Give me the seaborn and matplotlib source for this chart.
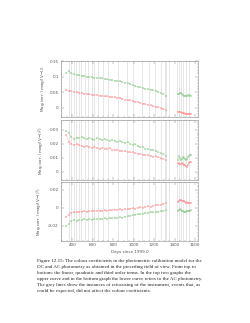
import matplotlib
matplotlib.use("Agg")
import matplotlib.pyplot as plt
import seaborn as sns
from matplotlib.ticker import AutoMinorLocator
import numpy as np

# --- data ---
days_a = [340, 365, 390, 415, 440, 465, 490, 515, 540, 565, 590, 615, 640, 665,
          690, 715, 740, 765, 790, 815, 840, 865, 890, 915, 940, 965, 990, 1015,
          1040, 1065, 1090, 1115, 1140, 1165, 1190, 1215, 1240, 1265, 1290, 1315]
days_b = [1430, 1440, 1450, 1460, 1470, 1480, 1490, 1500, 1510, 1520, 1530, 1540, 1550, 1560]

lin_ac_a = [0.113, 0.118, 0.110, 0.107, 0.106, 0.104, 0.103, 0.102, 0.100, 0.099,
            0.098, 0.097, 0.096, 0.095, 0.094, 0.092, 0.091, 0.090, 0.088, 0.087,
            0.086, 0.085, 0.082, 0.080, 0.078, 0.076, 0.072, 0.070, 0.068, 0.066,
            0.063, 0.061, 0.059, 0.058, 0.056, 0.054, 0.050, 0.047, 0.044, 0.038]
lin_ac_b = [0.043, 0.045, 0.046, 0.047, 0.044, 0.040, 0.037, 0.036, 0.038, 0.039,
            0.040, 0.039, 0.040, 0.039]
lin_dc_a = [0.056, 0.054, 0.052, 0.050, 0.049, 0.048, 0.046, 0.045, 0.044, 0.043,
            0.042, 0.041, 0.040, 0.039, 0.038, 0.037, 0.036, 0.035, 0.034, 0.033,
            0.032, 0.031, 0.029, 0.026, 0.024, 0.023, 0.021, 0.019, 0.018, 0.016,
            0.013, 0.011, 0.009, 0.007, 0.005, 0.003, 0.001, -0.002, -0.005, -0.009]
lin_dc_b = [-0.013, -0.014, -0.014, -0.015, -0.016, -0.017, -0.018, -0.019, -0.020,
            -0.021, -0.021, -0.022, -0.022, -0.022]

quad_ac_a = [0.0295, 0.0275, 0.0250, 0.0235, 0.0245, 0.0240, 0.0250, 0.0238, 0.0232, 0.0245,
             0.0236, 0.0228, 0.0240, 0.0232, 0.0225, 0.0236, 0.0228, 0.0220, 0.0226, 0.0222,
             0.0215, 0.0220, 0.0210, 0.0205, 0.0212, 0.0198, 0.0190, 0.0196, 0.0182, 0.0175,
             0.0180, 0.0165, 0.0160, 0.0155, 0.0158, 0.0145, 0.0140, 0.0132, 0.0125, 0.0112]
quad_ac_b = [0.0085, 0.0110, 0.0095, 0.0080, 0.0090, 0.0105, 0.0098, 0.0088, 0.0080,
             0.0092, 0.0105, 0.0112, 0.0118, 0.0120]
quad_dc_a = [0.0262, 0.0215, 0.0200, 0.0192, 0.0198, 0.0188, 0.0185, 0.0178, 0.0183, 0.0176,
             0.0172, 0.0178, 0.0170, 0.0166, 0.0172, 0.0165, 0.0162, 0.0168, 0.0158, 0.0154,
             0.0158, 0.0150, 0.0146, 0.0150, 0.0142, 0.0138, 0.0140, 0.0132, 0.0126, 0.0128,
             0.0120, 0.0116, 0.0120, 0.0112, 0.0108, 0.0110, 0.0102, 0.0096, 0.0092, 0.0084]
quad_dc_b = [0.0062, 0.0058, 0.0052, 0.0055, 0.0060, 0.0058, 0.0050, 0.0045, 0.0038,
             0.0030, 0.0048, 0.0062, 0.0070, 0.0072]

cub_dc_a = [-0.0100, -0.0075, -0.0055, -0.0048, -0.0052, -0.0042, -0.0045, -0.0038, -0.0044, -0.0036,
            -0.0040, -0.0032, -0.0036, -0.0030, -0.0034, -0.0028, -0.0030, -0.0024, -0.0027, -0.0020,
            -0.0024, -0.0018, -0.0020, -0.0012, -0.0016, -0.0008, -0.0004, -0.0008, 0.0002, 0.0006,
            0.0002, 0.0012, 0.0016, 0.0012, 0.0022, 0.0026, 0.0030, 0.0036, 0.0044, 0.0052]
cub_dc_b = [0.0060, 0.0075, 0.0085, 0.0090, 0.0080, 0.0072, 0.0078, 0.0065, 0.0058,
            0.0062, 0.0055, 0.0050, 0.0056, 0.0052]
cub_ac_a = [-0.0200, -0.0180, -0.0150, -0.0140, -0.0148, -0.0135, -0.0140, -0.0130, -0.0136, -0.0128,
            -0.0132, -0.0124, -0.0128, -0.0120, -0.0126, -0.0118, -0.0122, -0.0114, -0.0118, -0.0110,
            -0.0114, -0.0106, -0.0110, -0.0098, -0.0094, -0.0086, -0.0082, -0.0078, -0.0074, -0.0068,
            -0.0064, -0.0058, -0.0060, -0.0052, -0.0048, -0.0050, -0.0042, -0.0038, -0.0032, -0.0028]
cub_ac_b = [-0.0035, -0.0025, -0.0018, -0.0022, -0.0030, -0.0040, -0.0048, -0.0052, -0.0045,
            -0.0040, -0.0035, -0.0030, -0.0032, -0.0028]

# refocusing events (grey lines)
refocus_days = [361, 387, 410, 433, 459, 485, 524, 556, 589, 615, 654, 702, 751,
                849, 931, 995, 1083, 1148, 1207, 1272, 1304, 1321, 1346,
                1424, 1444, 1467, 1483, 1516, 1541]

ylabels = [r"Mag.corr. (mag/(V$-$I))",
           r"Mag.corr. (mag/(V$-$I)$^2$)",
           r"Mag.corr. (mag/(V$-$I)$^3$)"]
yticks = [[0, 0.05, 0.1, 0.15], [0, 0.01, 0.02, 0.03], [-0.02, 0, 0.02]]
yticklabels = [["0", "0.05", "0.1", "0.15"], ["0", "0.01", "0.02", "0.03"], ["-0.02", "0", "0.02"]]
ylims = [(-0.03, 0.15), (-0.006, 0.037), (-0.037, 0.029)]
xticks = [400, 600, 800, 1000, 1200, 1400, 1600]

caption_lines = [
    "Figure 12.15: The colour coefficients in the photometric calibration model for the",
    "DC and AC photometry as obtained in the preceding field of view. From top to",
    "bottom: the linear, quadratic and third order terms. In the top two graphs the",
    "upper curve and in the bottom graph the lower curve refers to the AC photometry.",
    "The grey lines show the instances of refocusing of the instrument, events that, as",
    "could be expected, did not affect the colour coefficients.",
]

sns.set_style("ticks")
plt.rcParams['font.family'] = ['DejaVu Sans']

green = "#86c986"
red = "#ff8a8a"

fig = plt.figure(figsize=(2.5, 3.23), dpi=100)
fig.patch.set_facecolor("white")

# panel boxes in figure fractions (left, bottom, width, height)
boxes = [[0.243, 0.638, 0.549, 0.173],
         [0.243, 0.443, 0.549, 0.185],
         [0.243, 0.254, 0.549, 0.183]]

series = [((lin_ac_a, lin_ac_b), (lin_dc_a, lin_dc_b)),
          ((quad_ac_a, quad_ac_b), (quad_dc_a, quad_dc_b)),
          ((cub_ac_a, cub_ac_b), (cub_dc_a, cub_dc_b))]

for i, box in enumerate(boxes):
    ax = fig.add_axes(box)
    for d in refocus_days:
        ax.axvline(d, color="#dcdcdc", linewidth=0.5, zorder=0)
    (ga, gb), (ra, rb) = series[i]
    for yy_a, yy_b, col in [(ga, gb, green), (ra, rb, red)]:
        sns.lineplot(x=days_a, y=yy_a, color=col, linewidth=0.3, alpha=0.6, ax=ax, zorder=2)
        sns.lineplot(x=days_b, y=yy_b, color=col, linewidth=0.3, alpha=0.6, ax=ax, zorder=2)
        sns.scatterplot(x=days_a + days_b, y=yy_a + yy_b, marker="+", s=3,
                        linewidth=0.35, color=col, ax=ax, zorder=2)
    ax.set_xlim(285, 1630)
    ax.set_ylim(*ylims[i])
    ax.set_yticks(yticks[i])
    ax.set_yticklabels(yticklabels[i])
    ax.set_xticks(xticks)
    ax.xaxis.set_minor_locator(AutoMinorLocator(4))
    ax.yaxis.set_minor_locator(AutoMinorLocator(5))
    ax.tick_params(which="both", direction="in", top=True, right=True,
                   width=0.3, color="#777777", labelsize=3, labelcolor="#555555", pad=1.5)
    ax.tick_params(which="major", length=2)
    ax.tick_params(which="minor", length=1)
    for sp in ax.spines.values():
        sp.set_linewidth(0.4)
        sp.set_color("#888888")
    ax.set_ylabel(ylabels[i], fontsize=3, color="#555555", labelpad=2)
    ax.set_xlabel("")
    if i < 2:
        ax.set_xticklabels([])
    else:
        ax.set_xlabel("Days since 1999.0", fontsize=3, color="#555555", labelpad=2)

# caption block
y0 = 1 - 261 / 323
for k, line in enumerate(caption_lines):
    fig.text(37 / 250, y0 - k * 6 / 323, line, fontsize=3.65, family="Liberation Serif",
             color="#222222", ha="left", va="center")

fig.savefig("out.png", dpi=100, facecolor="white")
